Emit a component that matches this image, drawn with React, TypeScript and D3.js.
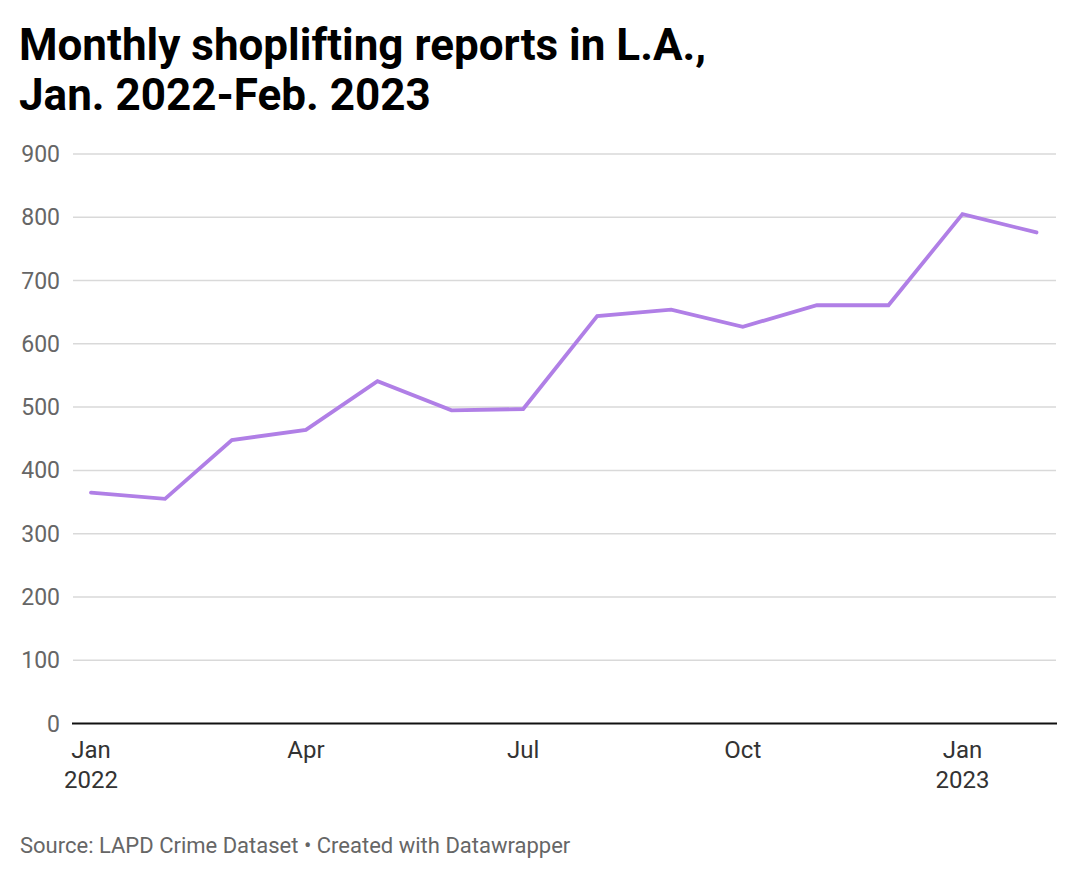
import React from "react";
import * as d3 from "d3";

const months: string[] = [
  "2022-01", "2022-02", "2022-03", "2022-04", "2022-05", "2022-06", "2022-07",
  "2022-08", "2022-09", "2022-10", "2022-11", "2022-12", "2023-01", "2023-02",
];
const reports: number[] = [365, 355, 448, 464, 541, 495, 497, 644, 654, 627, 661, 661, 805, 776];
const yTicks: number[] = [0, 100, 200, 300, 400, 500, 600, 700, 800, 900];
const xTickMonths: string[] = ["2022-01", "2022-04", "2022-07", "2022-10", "2023-01"];
const xTickLabels: string[][] = [["Jan", "2022"], ["Apr"], ["Jul"], ["Oct"], ["Jan", "2023"]];

const W = 1080;
const H = 880;
const FONT = "Roboto, 'Noto Sans', sans-serif";

export default function App() {
  const parse = d3.timeParse("%Y-%m");
  const dates = months.map((m) => parse(m) as Date);
  const x = d3
    .scaleTime()
    .domain([dates[0], dates[dates.length - 1]])
    .range([91, 1036.5]);
  const y = d3.scaleLinear().domain([0, 900]).range([723.5, 154]);
  const line = d3
    .line<number>()
    .x((_, i) => x(dates[i]))
    .y((d) => y(d));

  return (
    <svg
      width={W}
      height={H}
      style={{ position: "absolute", left: 0, top: 0, background: "#fff" }}
      fontFamily={FONT}
    >
      <text x={19} y={60} fontSize={44} fontWeight={700} fill="#000">
        Monthly shoplifting reports in L.A.,
      </text>
      <text x={19} y={110} fontSize={44} fontWeight={700} fill="#000">
        Jan. 2022-Feb. 2023
      </text>

      {yTicks.map((t) => (
        <g key={t}>
          {t !== 0 && (
            <line x1={73} x2={1056} y1={y(t)} y2={y(t)} stroke="#d9d9d9" strokeWidth={1.5} />
          )}
          <text
            x={60}
            y={y(t)}
            dy="0.35em"
            textAnchor="end"
            fontSize={23}
            fill="#666"
          >
            {t}
          </text>
        </g>
      ))}

      <path
        d={line(reports) || ""}
        fill="none"
        stroke="#b07fe6"
        strokeWidth={3.8}
        strokeLinejoin="miter"
        strokeLinecap="round"
      />

      <line x1={72} x2={1057} y1={y(0)} y2={y(0)} stroke="#111" strokeWidth={2.2} />

      {xTickMonths.map((m, i) => {
        const d = parse(m) as Date;
        return (
          <text key={m} x={x(d)} y={758} textAnchor="middle" fontSize={24} fill="#333">
            {xTickLabels[i].map((s, j) => (
              <tspan key={j} x={x(d)} dy={j === 0 ? 0 : 29.5}>
                {s}
              </tspan>
            ))}
          </text>
        );
      })}

      <text x={20} y={853} fontSize={22} fill="#666">
        Source: LAPD Crime Dataset • Created with Datawrapper
      </text>
    </svg>
  );
}
